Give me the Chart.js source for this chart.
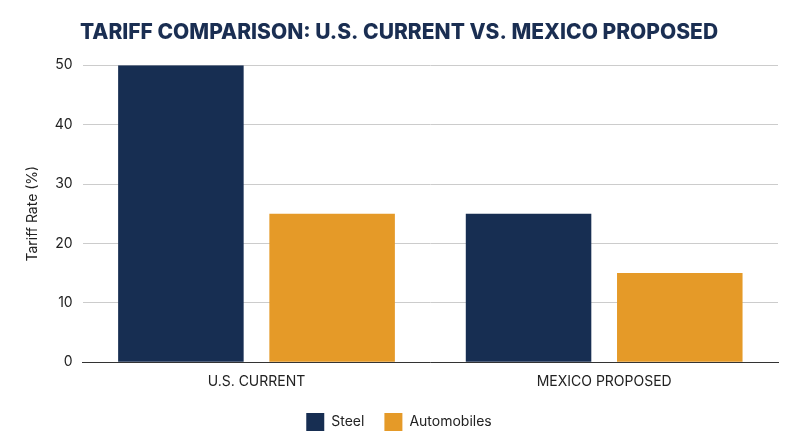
<!DOCTYPE html>
<html>
<head>
<meta charset="utf-8">
<script src="https://cdn.jsdelivr.net/npm/chart.js@4"></script>
<style>
  html, body { margin: 0; padding: 0; background: #fff; }
  #wrap { width: 800px; height: 447px; }
</style>
</head>
<body>
<div id="wrap"><canvas id="chart"></canvas></div>
<script>
const categories = ["U.S. CURRENT", "MEXICO PROPOSED"];
const steel = [50, 25];
const automobiles = [25, 15];

new Chart(document.getElementById("chart"), {
  type: "bar",
  data: {
    labels: categories,
    datasets: [
      { label: "Steel", data: steel, backgroundColor: "#172e52", categoryPercentage: 0.87, barPercentage: 0.83 },
      { label: "Automobiles", data: automobiles, backgroundColor: "#e59a28", categoryPercentage: 0.87, barPercentage: 0.83 }
    ]
  },
  options: {
    responsive: true,
    maintainAspectRatio: false,
    animation: false,
    layout: { padding: { left: 20, right: 22, top: 8, bottom: 6 } },
    plugins: {
      title: {
        display: true,
        text: "TARIFF COMPARISON: U.S. CURRENT VS. MEXICO PROPOSED",
        color: "#1a2e52",
        font: { family: "Inter", size: 21, weight: "800" },
        padding: { top: 12, bottom: 20 }
      },
      legend: {
        position: "bottom",
        labels: { color: "#222", font: { family: "Inter", size: 14 }, boxWidth: 18, boxHeight: 18, padding: 20 }
      }
    },
    scales: {
      x: {
        grid: { display: false },
        border: { color: "#333" },
        ticks: { color: "#222", font: { family: "Inter", size: 14 } }
      },
      y: {
        min: 0, max: 50,
        ticks: { stepSize: 10, color: "#222", font: { family: "Inter", size: 14 }, padding: 10 },
        grid: { color: "#cccccc", drawTicks: false },
        border: { display: false },
        title: { display: true, text: "Tariff Rate (%)", color: "#222", font: { family: "Inter", size: 14 } }
      }
    }
  }
});
</script>
</body>
</html>
